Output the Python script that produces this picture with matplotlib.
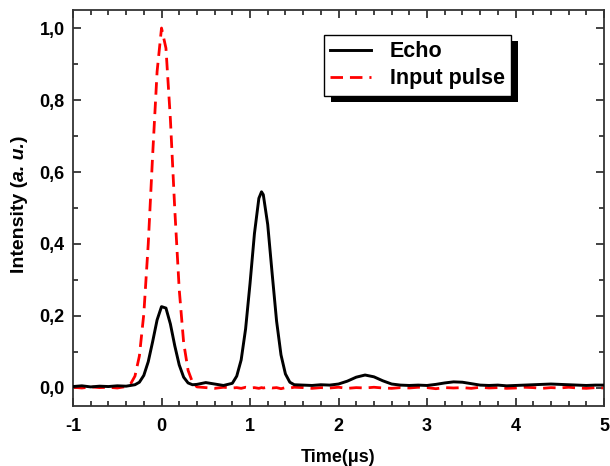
import matplotlib
matplotlib.use("Agg")
import matplotlib.pyplot as plt
from matplotlib.patches import Rectangle
from matplotlib.transforms import IdentityTransform
from matplotlib.ticker import MultipleLocator, FuncFormatter

# Time axis (us), denser around the pulses
time_us = [-1.0, -0.9, -0.8, -0.7, -0.6, -0.5, -0.4, -0.35, -0.3, -0.25,
           -0.2, -0.15, -0.1, -0.05, 0.0, 0.05, 0.1, 0.15, 0.2, 0.25,
           0.3, 0.35, 0.4, 0.5, 0.6, 0.7, 0.8, 0.85, 0.9, 0.95,
           1.0, 1.05, 1.1, 1.13, 1.15, 1.2, 1.25, 1.3, 1.35, 1.4,
           1.45, 1.5, 1.6, 1.7, 1.8, 1.9, 2.0, 2.1, 2.2, 2.3,
           2.4, 2.5, 2.6, 2.7, 2.8, 2.9, 3.0, 3.1, 3.2, 3.3,
           3.4, 3.5, 3.6, 3.7, 3.8, 3.9, 4.0, 4.1, 4.2, 4.3,
           4.4, 4.5, 4.6, 4.7, 4.8, 4.9, 5.0]

echo = [0.004, 0.006, 0.003, 0.005, 0.004, 0.006, 0.005, 0.007, 0.009, 0.016,
        0.035, 0.073, 0.129, 0.189, 0.226, 0.222, 0.178, 0.117, 0.064, 0.030,
        0.014, 0.009, 0.010, 0.015, 0.011, 0.007, 0.013, 0.033, 0.078, 0.164,
        0.290, 0.429, 0.527, 0.545, 0.537, 0.454, 0.318, 0.186, 0.092, 0.039,
        0.016, 0.009, 0.008, 0.007, 0.009, 0.008, 0.011, 0.019, 0.030, 0.036,
        0.031, 0.020, 0.011, 0.008, 0.007, 0.008, 0.007, 0.010, 0.014, 0.017,
        0.016, 0.012, 0.008, 0.007, 0.008, 0.006, 0.007, 0.008, 0.009, 0.010,
        0.011, 0.010, 0.009, 0.008, 0.007, 0.008, 0.008]

input_pulse = [0.002, 0.000, 0.003, 0.001, 0.002, 0.000, 0.004, 0.011, 0.033, 0.089,
               0.206, 0.400, 0.648, 0.879, 1.000, 0.944, 0.748, 0.495, 0.274, 0.126,
               0.049, 0.016, 0.003, 0.001, -0.001, 0.002, 0.000, 0.001, -0.001, 0.002,
               0.000, 0.001, -0.001, 0.001, 0.000, 0.002, 0.000, 0.001, -0.002, 0.001,
               0.000, 0.002, 0.001, -0.001, 0.001, 0.000, 0.002, -0.001, 0.001, 0.000,
               0.002, 0.000, -0.001, 0.001, 0.000, 0.002, 0.001, -0.002, 0.001, 0.000,
               0.001, -0.001, 0.002, 0.000, 0.001, -0.001, 0.000, 0.002, 0.001, -0.001,
               0.001, 0.000, 0.002, 0.000, -0.001, 0.001, 0.000]

plt.rcParams['font.family'] = ['Liberation Sans', 'DejaVu Sans']
plt.rcParams['font.weight'] = 'bold'

fig = plt.figure(figsize=(6.1, 4.66), dpi=100)
ax = fig.add_axes([0.1197, 0.1288, 0.8705, 0.8497])

ax.plot(time_us, echo, color='black', lw=2.1, label='Echo', zorder=3)
ax.plot(time_us, input_pulse, color='red', lw=2.0, dashes=(4.5, 2.5),
        label='Input pulse', zorder=2)

ax.set_xlim(-1, 5)
ax.set_ylim(-0.05, 1.05)

ax.xaxis.set_major_locator(MultipleLocator(1))
ax.xaxis.set_minor_locator(MultipleLocator(0.2))
ax.yaxis.set_major_locator(MultipleLocator(0.2))
ax.yaxis.set_minor_locator(MultipleLocator(0.1))
ax.xaxis.set_major_formatter(FuncFormatter(lambda v, p: f'{v:.0f}'))
ax.yaxis.set_major_formatter(FuncFormatter(lambda v, p: f'{v:.1f}'.replace('.', ',')))

ax.tick_params(which='both', direction='in', top=True, right=True,
               labelsize=13, width=1.2, colors='#222222', labelcolor='black')
ax.tick_params(which='major', length=6)
ax.tick_params(which='minor', length=3.5)
ax.tick_params(axis='x', which='major', pad=9)
ax.tick_params(axis='y', which='major', pad=6)
for s in ax.spines.values():
    s.set_linewidth(1.3)
    s.set_color('#333333')

ax.set_xlabel('Time(μs)', fontsize=13, fontweight='bold', labelpad=10)

leg = ax.legend(loc='upper right', bbox_to_anchor=(0.825, 0.937), borderaxespad=0,
                fancybox=False, framealpha=1, edgecolor='black',
                prop={'size': 15.5, 'weight': 'bold'}, handlelength=1.9,
                handletextpad=0.85, labelspacing=0.28, borderpad=0.3)
leg.get_frame().set_linewidth(1.0)

fig.canvas.draw()
renderer = fig.canvas.get_renderer()

# y label in three pieces so that "a. u." can be bold italic
pieces = [('Intensity (', 'normal'), ('a. u.', 'italic'), (')', 'normal')]
texts = []
for s, style in pieces:
    t = fig.text(0, 0, s, rotation=90, rotation_mode='anchor', ha='left', va='center',
                 fontsize=14, fontweight='bold', fontstyle=style,
                 transform=IdentityTransform())
    texts.append(t)
lengths = [t.get_window_extent(renderer).height for t in texts]
label_x = 19
y0 = (466 - 204) - sum(lengths) / 2
for t, L in zip(texts, lengths):
    t.set_position((label_x, y0))
    y0 += L

# solid black drop shadow behind the legend box
bb = leg.get_window_extent(renderer)
shadow = Rectangle((bb.x0 + 7, bb.y0 - 6), bb.width, bb.height,
                   transform=IdentityTransform(), facecolor='black',
                   edgecolor='none', zorder=4.9, clip_on=False)
ax.add_patch(shadow)

fig.savefig('out.png', dpi=100)
